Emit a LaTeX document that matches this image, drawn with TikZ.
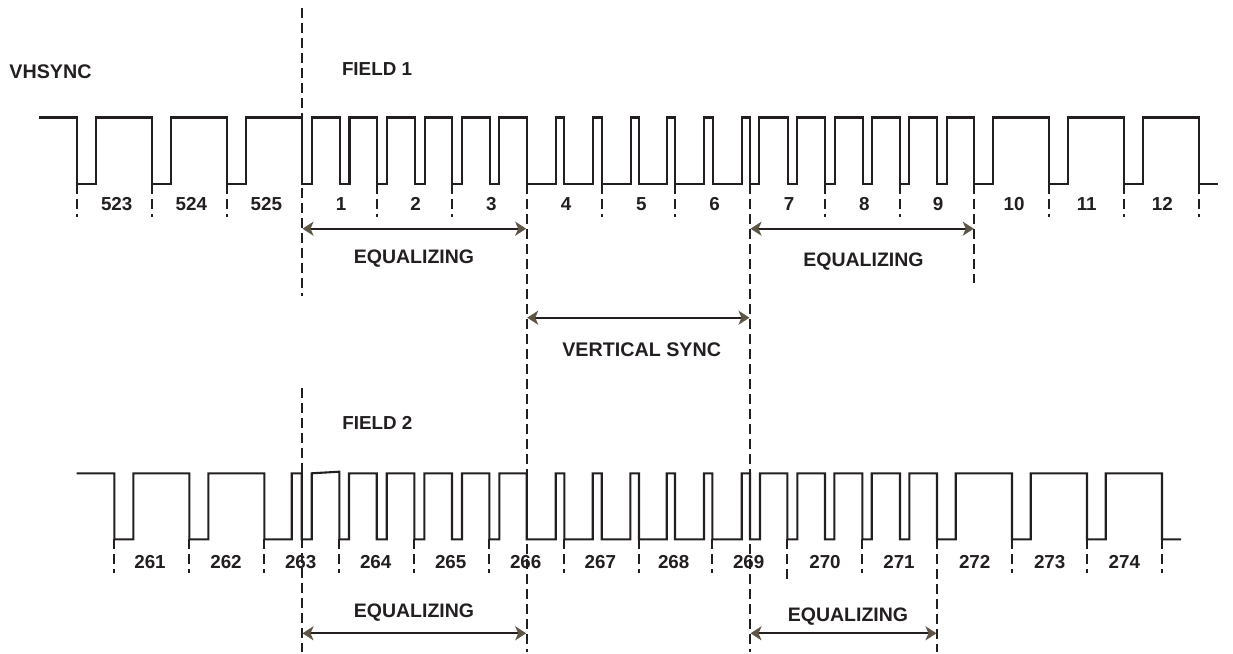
\documentclass[tikz,border=0pt]{standalone}
\usepackage{fontspec}
\setmainfont{Liberation Sans}
\usetikzlibrary{arrows.meta}
\definecolor{ink}{HTML}{231F20}
\definecolor{tip}{HTML}{5F5547}
\tikzset{
  wave/.style={draw=ink,line width=2.1pt,line join=miter},
  vdash/.style={draw=ink,line width=2.2pt,dash pattern=on 10pt off 5pt},
  span/.style={draw=ink,line width=2.3pt,{Stealth[length=11pt,width=14pt,inset=3pt,color=tip]}-{Stealth[length=11pt,width=14pt,inset=3pt,color=tip]},shorten <=0.5pt,shorten >=0.5pt},
  num/.style={text=ink,font=\fontsize{18.8}{20}\selectfont\bfseries,inner sep=0pt},
  lab/.style={text=ink,font=\fontsize{18.8}{20}\selectfont\bfseries,inner sep=0pt},
  eqlab/.style={text=ink,font=\fontsize{19.5}{21}\selectfont\bfseries,inner sep=0pt},
  labb/.style={text=ink,font=\fontsize{19.7}{22}\selectfont\bfseries,inner sep=0pt},
}
\begin{document}
\begin{tikzpicture}[x=1pt,y=-1pt]
\useasboundingbox (0,0) rectangle (1233,653);
% labels
\node[labb] (vhsync) at (50.5,72) {VHSYNC};
\node[lab] (field1) at (377,69.5) {FIELD 1};
\node[lab] (field2) at (377.3,423.3) {FIELD 2};
\node[labb] (vsync) at (641.7,350) {VERTICAL SYNC};
\node[eqlab] (eqa) at (414,259) {EQUALIZING};
\node[eqlab] (eqb) at (863.5,262) {EQUALIZING};
\node[eqlab] (eqc) at (414,613) {EQUALIZING};
\node[eqlab] (eqd) at (848,616.5) {EQUALIZING};
\foreach \x/\t in {116.7/523,191.3/524,266.3/525,341/1,415.5/2,491.3/3,566/4,641.3/5,714.7/6,789/7,864.3/8,938/9,1014/10,1086.7/11,1162.3/12}
  \node[num] (n\t) at (\x,204.3) {\t};
\foreach \x/\t in {150/261,226/262,300.7/263,375.7/264,450.7/265,525.7/266,600.3/267,673.7/268,748.7/269,825/270,899/271,974.7/272,1049.7/273,1124.3/274}
  \node[num] (n\t) at (\x,562.3) {\t};
% waveform, field 1
\draw[wave] (39,117.5) -| (77.3,184) -| (96.3,117.5) -| (152.3,184) -| (171.3,117.5) -| (227.3,184) -| (246.3,117.5) -| (302,184)
  -| (312.3,117.5) -| (340,184) -| (349.5,117.5) -| (377.3,184) -| (386.7,117.5) -| (415,184) -| (425,117.5) -| (452.3,184) -| (462.3,117.5) -| (490,184) -| (499.3,117.5) -| (526.7,184)
  -| (555.7,117.5) -| (564.3,184) -| (593,117.5) -| (601.7,184) -| (630.7,117.5) -| (639.3,184) -| (666.7,117.5) -| (675,184) -| (704,117.5) -| (712.7,184) -| (741.7,117.5) -| (750,184)
  -| (759.3,117.5) -| (788,184) -| (797.3,117.5) -| (825,184) -| (835,117.5) -| (862.7,184) -| (871.7,117.5) -| (900,184) -| (909.3,117.5) -| (937.3,184) -| (947.3,117.5) -| (974.3,184)
  -| (993.3,117.5) -| (1049.3,184) -| (1068.3,117.5) -| (1124.3,184) -| (1143.3,117.5) -| (1199.3,184) -- (1218.3,184);
% waveform, field 2
\draw[wave] (76.7,473.3) -| (114.3,539.3) -| (133.3,473.3) -| (189.3,539.3) -| (208.3,473.3) -| (264.3,539.3) -| (291.7,473.3) -| (301.7,539.3) -| (311.7,473.3)
  -- (339.3,471.7) -- (339.3,539.3) -| (349,473.3) -| (376.7,539.3) -| (386.7,473.3) -| (414.3,539.3) -| (424.3,473.3) -| (452,539.3) -| (462,473.3) -| (489.3,539.3) -| (499.3,473.3) -| (526.7,539.3)
  -| (555.7,473.3) -| (564.3,539.3) -| (592.7,473.3) -| (601.7,539.3) -| (630.3,473.3) -| (639,539.3) -| (666.7,473.3) -| (675,539.3) -| (704,473.3) -| (712.3,539.3) -| (741.7,473.3) -| (750,539.3)
  -| (760,473.3) -| (787.3,539.3) -| (797.3,473.3) -| (825,539.3) -| (834.3,473.3) -| (862.3,539.3) -| (871.7,473.3) -| (900,539.3) -| (909.3,473.3) -| (937,539.3)
  -| (955.7,473.3) -| (1012,539.3) -| (1030.7,473.3) -| (1087,539.3) -| (1105.7,473.3) -| (1162,539.3) -- (1181,539.3);
% short ticks
\foreach \x in {77.3,152.3,227.3,377.3,452.3,601.7,675,825,900,1049.3,1124.3,1199.3}
  \draw[vdash] (\x,184) -- (\x,217);
\foreach \x in {114.3,189.3,264.3,339.3,414.3,489.3,564.3,639,712.3,862.3,1012,1087,1162}
  \draw[vdash] (\x,539.3) -- (\x,573);
\draw[vdash] (787.3,539.3) -- (787.3,579);
% long dashed lines
\draw[vdash] (302,8) -- (302,296);
\draw[vdash] (302,388) -- (302,652);
\draw[vdash] (526.7,184) -- (526.7,652);
\draw[vdash] (750,184) -- (750,652);
\draw[vdash] (974.3,184) -- (974.3,283);
\draw[vdash] (937,539.3) -- (937,652);
% spans
\coordinate (a1) at (302,228.7); \coordinate (a2) at (526.7,228.7);
\coordinate (b1) at (750,228.7); \coordinate (b2) at (974.3,228.7);
\coordinate (c1) at (526.7,317.7); \coordinate (c2) at (750,317.7);
\coordinate (d1) at (302,633.3); \coordinate (d2) at (526.7,633.3);
\coordinate (e1) at (750,633.3); \coordinate (e2) at (937,633.3);
\draw[span] (a1) -- (a2);
\draw[span] (b1) -- (b2);
\draw[span] (c1) -- (c2);
\draw[span] (d1) -- (d2);
\draw[span] (e1) -- (e2);
\end{tikzpicture}
\end{document}
